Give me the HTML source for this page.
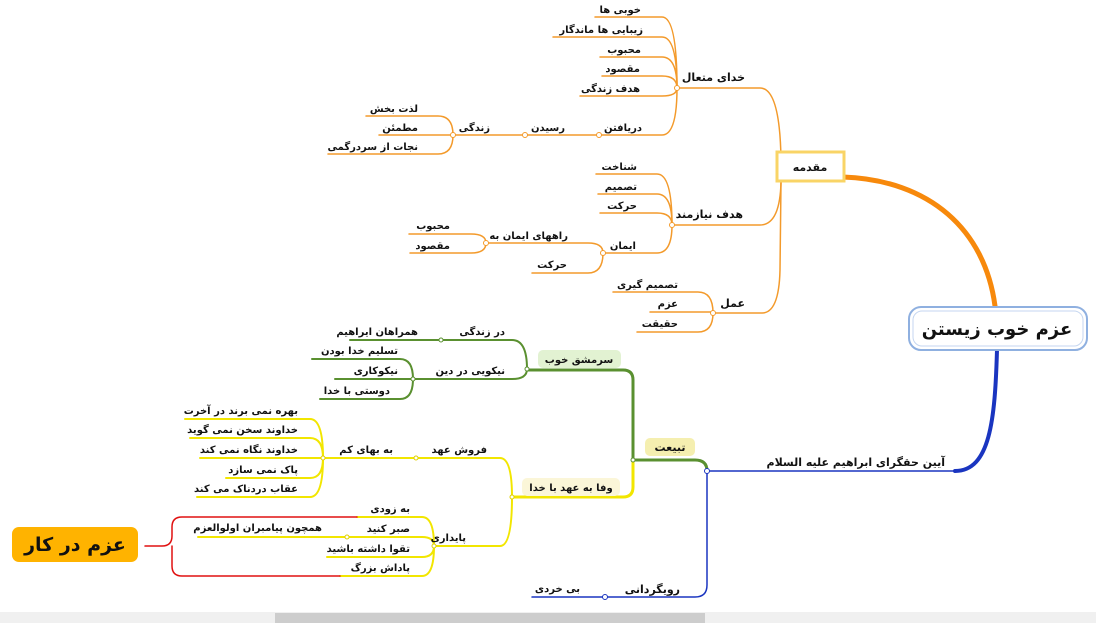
<!DOCTYPE html>
<html><head><meta charset="utf-8"><style>
body{margin:0;width:1096px;height:623px;background:#fff;overflow:hidden}
svg text{font-family:"DejaVu Sans","Liberation Sans",sans-serif;font-weight:bold;fill:#111}
.s{font-size:10px}.m{font-size:11px}
</style></head><body>
<svg width="1096" height="623" viewBox="0 0 1096 623" xmlns="http://www.w3.org/2000/svg">
<g fill="none" stroke-linecap="round">
<g stroke="#f39a2b" stroke-width="1.5">
<path d="M677,88 H760 Q780,88 781,160"/>
<path d="M672,225 H760 Q780,225 781,182"/>
<path d="M713,313 H762 Q779,313 780,270 L781,182"/>
<path d="M595,17 H662 Q677,17 677,88"/><path d="M553,37 H662 Q677,37 677,88"/>
<path d="M600,57 H662 Q677,57 677,88"/><path d="M602,76 H662 Q677,76 677,88"/>
<path d="M580,96 H662 Q677,96 677,88"/><path d="M599,135 H662 Q677,135 677,88"/>
<path d="M453,135 H599"/>
<path d="M366,116 H438 Q453,116 453,135"/><path d="M379,135 H453"/><path d="M328,154 H438 Q453,154 453,135"/>
<path d="M596,174 H657 Q672,174 672,225"/><path d="M598,194 H657 Q672,194 672,225"/>
<path d="M600,213 H657 Q672,213 672,225"/><path d="M603,253 H657 Q672,253 672,225"/>
<path d="M486,243 H588 Q603,243 603,253"/><path d="M532,273 H588 Q603,273 603,253"/>
<path d="M409,234 H471 Q486,234 486,243"/><path d="M410,253 H471 Q486,253 486,243"/>
<path d="M613,292 H698 Q713,292 713,313"/><path d="M650,312 H713"/><path d="M637,332 H698 Q713,332 713,313"/>
</g>
<path d="M843,177 C930,180 985,230 995,306" stroke="#f7890c" stroke-width="5"/>
<path d="M997,350 C995,420 990,471 955,471" stroke="#1a35c0" stroke-width="4"/>
<path d="M960,471 H707 V585 Q707,597 695,597 H532" stroke="#1a35c0" stroke-width="1.5"/>
<path d="M707,471 Q707,460 695,460 H633 V380 Q633,370 623,370 H527" stroke="#5a9030" stroke-width="3"/>
<g stroke="#5a9030" stroke-width="2">
<path d="M350,340 H512 Q527,340 527,369"/><path d="M413,379 H512 Q527,379 527,369"/>
<path d="M312,359 H400 Q413,359 413,379"/><path d="M335,379 H413"/><path d="M320,399 H400 Q413,399 413,379"/>
</g>
<path d="M633,460 V487 Q633,497 623,497 H512" stroke="#f2e600" stroke-width="3"/>
<g stroke="#f2e600" stroke-width="2">
<path d="M323,458 H500 Q512,458 512,497"/><path d="M434,546 H500 Q512,546 512,497"/>
<path d="M185,419 H310 Q323,419 323,458"/><path d="M190,438 H310 Q323,438 323,458"/>
<path d="M200,458 H323"/><path d="M226,478 H310 Q323,478 323,458"/><path d="M197,497 H310 Q323,497 323,458"/>
<path d="M357,517 H422 Q434,517 434,546"/><path d="M198,537 H422 Q434,537 434,546"/>
<path d="M327,557 H422 Q434,557 434,546"/><path d="M340,576 H422 Q434,576 434,546"/>
</g>
<path d="M145,546 H162 Q172,546 172,536 V527 Q172,517 182,517 H357 M172,546 V566 Q172,576 182,576 H340" stroke="#e01010" stroke-width="1.5"/>
</g>
<g fill="#fff" stroke-width="1">
<g stroke="#f39a2b"><circle cx="677" cy="88" r="2.5"/><circle cx="599" cy="135" r="2.5"/><circle cx="525" cy="135" r="2.5"/><circle cx="453" cy="135" r="2.5"/><circle cx="672" cy="225" r="2.5"/><circle cx="603" cy="253" r="2.5"/><circle cx="486" cy="243" r="2.5"/><circle cx="713" cy="313" r="2.5"/></g>
<g stroke="#1a35c0"><circle cx="707" cy="471" r="2.5"/><circle cx="605" cy="597" r="2.5"/></g>
<g stroke="#5a9030"><circle cx="633" cy="460" r="2"/><circle cx="527" cy="369" r="2"/><circle cx="441" cy="340" r="2"/><circle cx="413" cy="379" r="2"/></g>
<g stroke="#e0d000"><circle cx="512" cy="497" r="2"/><circle cx="416" cy="458" r="2"/><circle cx="323" cy="458" r="2"/><circle cx="434" cy="546" r="2"/><circle cx="347" cy="537" r="2"/></g>
</g>
<rect x="909" y="307" width="178" height="43" rx="12" fill="#fff" stroke="#8fb0e0" stroke-width="2"/>
<rect x="913" y="311" width="170" height="35" rx="9" fill="none" stroke="#c5d6f0" stroke-width="1"/>
<text x="997" y="335" text-anchor="middle" style="font-size:18px">عزم خوب زیستن</text>
<rect x="777" y="152" width="67" height="29" fill="#fff" stroke="#f9d466" stroke-width="3"/>
<text x="810" y="171" text-anchor="middle" class="m">مقدمه</text>
<rect x="645" y="438" width="50" height="18" rx="5" fill="#f5efb0"/>
<text x="670" y="451" text-anchor="middle" class="m">تبیعت</text>
<rect x="538" y="350" width="83" height="18" rx="5" fill="#e2f2d2"/>
<text x="579" y="363" text-anchor="middle" class="s">سرمشق خوب</text>
<rect x="522" y="478" width="98" height="18" rx="5" fill="#fbf6d8"/>
<text x="571" y="491" text-anchor="middle" class="s">وفا به عهد با خدا</text>
<rect x="12" y="527" width="126" height="35" rx="7" fill="#ffb300"/>
<text x="75" y="551" text-anchor="middle" style="font-size:19px">عزم در کار</text>
<g text-anchor="end">
<text x="745" y="81" class="m">خدای متعال</text>
<text x="743" y="218" class="m">هدف نیازمند</text>
<text x="745" y="307" class="m">عمل</text>
<text x="945" y="466" class="m">آیین حقگرای ابراهیم علیه السلام</text>
<text x="680" y="593" class="m">رویگردانی</text>
<g class="s">
<text x="641" y="13">خوبی ها</text><text x="643" y="33">زیبایی ها ماندگار</text>
<text x="641" y="53">محبوب</text><text x="640" y="72">مقصود</text><text x="640" y="92">هدف زندگی</text>
<text x="642" y="131">دریافتن</text><text x="565" y="131">رسیدن</text><text x="490" y="131">زندگی</text>
<text x="418" y="112">لذت بخش</text><text x="418" y="131">مطمئن</text><text x="418" y="150">نجات از سردرگمی</text>
<text x="637" y="170">شناخت</text><text x="637" y="190">تصمیم</text><text x="637" y="209">حرکت</text><text x="636" y="249">ایمان</text>
<text x="568" y="239">راههای ایمان به</text><text x="567" y="268">حرکت</text>
<text x="450" y="229">محبوب</text><text x="450" y="249">مقصود</text>
<text x="678" y="288">تصمیم گیری</text><text x="678" y="307">عزم</text><text x="678" y="327">حقیقت</text>
<text x="580" y="592">بی خردی</text>
<text x="505" y="335">در زندگی</text><text x="418" y="335">همراهان ایراهیم</text>
<text x="505" y="374">نیکویی در دین</text>
<text x="398" y="354">تسلیم خدا بودن</text><text x="398" y="374">نیکوکاری</text><text x="390" y="394">دوستی با خدا</text>
<text x="487" y="453">فروش عهد</text><text x="393" y="453">به بهای کم</text>
<text x="298" y="414">بهره نمی برند در آخرت</text><text x="298" y="433">خداوند سخن نمی گوید</text>
<text x="298" y="453">خداوند نگاه نمی کند</text><text x="298" y="473">پاک نمی سازد</text><text x="298" y="492">عقاب دردناک می کند</text>
<text x="466" y="541">پایداری</text>
<text x="410" y="512">به زودی</text><text x="410" y="532">صبر کنید</text><text x="410" y="552">تقوا داشته باشید</text><text x="410" y="571">پاداش بزرگ</text>
<text x="322" y="531">همچون پیامبران اولوالعزم</text>
</g></g>
<rect x="0" y="612" width="1096" height="11" fill="#f0f0f0"/>
<rect x="275" y="613" width="430" height="10" fill="#cdcdcd"/>
</svg>
</body></html>
